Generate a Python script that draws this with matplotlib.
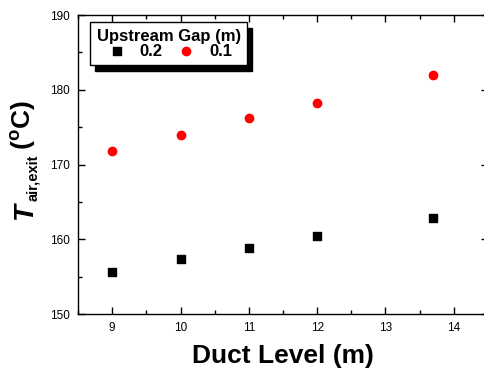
import matplotlib
matplotlib.use('Agg')
import matplotlib.pyplot as plt
from matplotlib.ticker import MultipleLocator

plt.rcParams['font.family'] = 'Liberation Sans'
plt.rcParams['mathtext.fontset'] = 'custom'
plt.rcParams['mathtext.rm'] = 'Liberation Sans:bold'
plt.rcParams['mathtext.bf'] = 'Liberation Sans:bold'

duct_level = [9, 10, 11, 12, 13.7]
gap_02 = [155.6, 157.4, 158.9, 160.4, 162.9]
gap_01 = [171.8, 174.0, 176.2, 178.2, 182.0]
series_labels = ['0.2', '0.1']

W, H = 485, 369
fig = plt.figure(figsize=(W / 100, H / 100), dpi=100)
ax = fig.add_axes([0.161, 0.149, 0.845, 0.81])

ax.scatter(duct_level, gap_02, marker='s', s=26, color='black', label=series_labels[0], zorder=3)
ax.scatter(duct_level, gap_01, marker='o', s=36, color='red', label=series_labels[1], zorder=3)

ax.set_xlim(8.5, 14.5)
ax.set_ylim(150, 190)
ax.xaxis.set_major_locator(MultipleLocator(1))
ax.xaxis.set_minor_locator(MultipleLocator(0.5))
ax.yaxis.set_major_locator(MultipleLocator(10))
ax.yaxis.set_minor_locator(MultipleLocator(5))
ax.tick_params(which='both', direction='in', top=True, right=True, labelsize=8.5, width=1, pad=6)
ax.tick_params(which='major', length=5)
ax.tick_params(which='minor', length=3)
for sp in ax.spines.values():
    sp.set_linewidth(1)

ax.set_xlabel('Duct Level (m)', fontsize=19, fontweight='bold', labelpad=7)


# y label built from pieces so the subscript can be smaller than mathtext allows
def px(x, y):
    return x / W, 1 - y / H


kw = dict(rotation=90, rotation_mode='anchor', ha='left', va='baseline', fontweight='bold')
fig.text(*px(32, 220), 'T', fontsize=20, style='italic', **kw)
fig.text(*px(37, 201), 'air,exit', fontsize=10.5, **kw)
fig.text(*px(31, 150), r'($^{\mathrm{o}}$C)', fontsize=19, **kw)

leg = ax.legend(title='Upstream Gap (m)', ncol=2, loc='upper left', bbox_to_anchor=(0.029, 0.977),
                borderaxespad=0, prop={'weight': 'bold', 'size': 12},
                title_fontproperties={'weight': 'bold', 'size': 12},
                frameon=True, fancybox=False, shadow={'color': 'black', 'alpha': 1, 'ox': 3.5, 'oy': -4},
                edgecolor='black', handletextpad=0.7, columnspacing=0.7, borderpad=0.4,
                labelspacing=0.0, handlelength=1.4, framealpha=1)
leg.get_frame().set_linewidth(1)

fig.savefig('out.png', dpi=100)
